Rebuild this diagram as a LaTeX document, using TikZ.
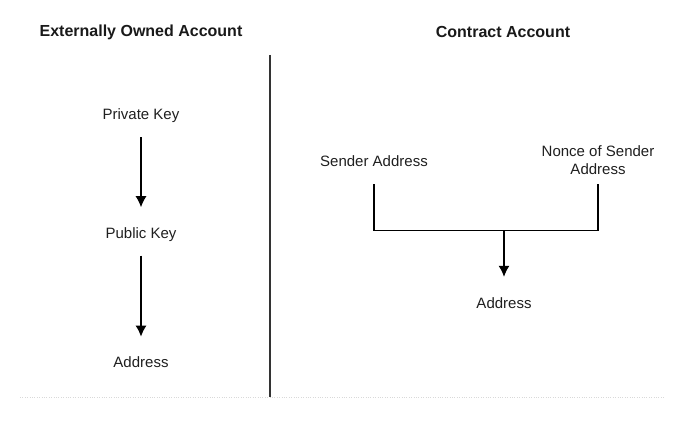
\documentclass[tikz,border=0pt]{standalone}
\usepackage{fontspec}
\setmainfont{Liberation Sans}
\usetikzlibrary{arrows.meta, positioning}
\tikzstyle{line} = [draw, line width=1.2pt, -{Latex[length=11pt,width=11pt]}]
\tikzstyle{wire} = [draw, line width=1.2pt]
\tikzstyle{term} = [text height=14pt, text depth=0pt, inner xsep=2pt, inner ysep=17pt, font=\fontsize{15}{18}\selectfont, text=black!88]
\tikzstyle{heading} = [font=\bfseries\fontsize{16}{19}\selectfont, text=black!90]

\begin{document}
\begin{tikzpicture}[x=1pt, y=1pt]
\useasboundingbox (0,0) rectangle (684,426);
\node [heading] (eoa) at (141,394) {Externally Owned Account};
\node [heading] (contract) at (503,394) {Contract Account};
\draw [line width=1.2pt, black!80] (270,371) -- (270,29);
\draw [gray!30, dotted] (20,29) -- (665,29);
\node [term] (private) at (141,313) {Private Key};
\node [term, below=70pt of private] (public) {Public Key};
\node [term, below=81pt of public] (address) {Address};
\node [term] (sender) at (374,266) {Sender Address};
\node [font=\fontsize{15}{18}\selectfont, text=black!88, align=center] (nonce) at (598,266) {Nonce of Sender\\Address};
\coordinate [below=46pt of sender] (merge);
\node [term] (contractaddr) at (504,125) {Address};
\path [line] (private) -- (public);
\path [line] (public) -- (address);
\path [wire] (sender) -- (merge) -| (nonce |- sender.south);
\path [line] (merge -| contractaddr) -- (contractaddr);
\end{tikzpicture}
\end{document}
